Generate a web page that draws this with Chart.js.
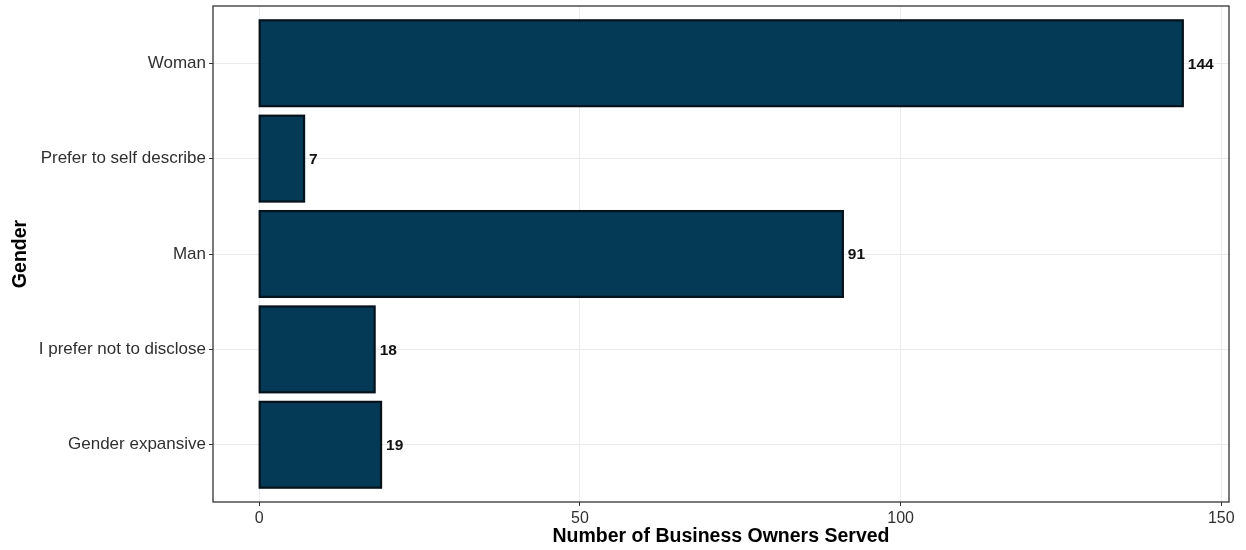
<!DOCTYPE html>
<html>
<head>
<meta charset="utf-8">
<script src="https://cdn.jsdelivr.net/npm/chart.js@4.4.1/dist/chart.umd.min.js"></script>
<style>
  html, body { margin: 0; padding: 0; background: #ffffff; }
  #wrap { width: 1246px; height: 550px; position: relative; }
</style>
</head>
<body>
<div id="wrap"><canvas id="c" width="1246" height="550"></canvas></div>
<script>
// Data (top to bottom as shown)
const categories = ['Woman', 'Prefer to self describe', 'Man', 'I prefer not to disclose', 'Gender expansive'];
const owners = [144, 7, 91, 18, 19];
const xTicks = [0, 50, 100, 150];

const points = categories.map((c, i) => ({ x: owners[i], y: i }));

const panelBorder = {
  id: 'panelBorder',
  afterDraw(chart) {
    const a = chart.chartArea, ctx = chart.ctx;
    ctx.save();
    ctx.strokeStyle = '#333333';
    ctx.lineWidth = 1.3;
    ctx.strokeRect(a.left, a.top, a.right - a.left, a.bottom - a.top);
    ctx.restore();
  }
};

// outline each bar (centered on its edge, like ggplot) and write value labels
const barDecor = {
  id: 'barDecor',
  afterDatasetsDraw(chart) {
    const ctx = chart.ctx;
    const meta = chart.getDatasetMeta(0);
    ctx.save();
    ctx.strokeStyle = '#04121b';
    ctx.lineWidth = 2.2;
    meta.data.forEach((bar) => {
      const p = bar.getProps(['x', 'y', 'base', 'height'], true);
      ctx.strokeRect(p.base, p.y - p.height / 2, p.x - p.base, p.height);
    });
    ctx.font = 'bold 15.5px "Liberation Sans", Arial, sans-serif';
    ctx.fillStyle = '#111111';
    ctx.textAlign = 'left';
    ctx.textBaseline = 'middle';
    meta.data.forEach((bar, i) => {
      ctx.fillText(String(owners[i]), bar.x + 5, bar.y + 1);
    });
    ctx.restore();
  }
};

Chart.defaults.font.family = '"Liberation Sans", Arial, sans-serif';

new Chart(document.getElementById('c'), {
  type: 'bar',
  data: {
    datasets: [{
      data: points,
      backgroundColor: '#053a56',
      borderWidth: 0,
      inflateAmount: 0,
      categoryPercentage: 1,
      barPercentage: 0.9
    }]
  },
  options: {
    indexAxis: 'y',
    responsive: false,
    animation: false,
    devicePixelRatio: 1,
    layout: { padding: { top: 6, right: 17, left: 0, bottom: 0 } },
    plugins: { legend: { display: false }, tooltip: { enabled: false } },
    scales: {
      x: {
        type: 'linear',
        min: -7.2,
        max: 151.2,
        afterBuildTicks(scale) { scale.ticks = xTicks.map(v => ({ value: v })); },
        afterFit(scale) { scale.height = 48; },
        border: { display: false },
        grid: {
          color: '#ebebeb',
          lineWidth: 1,
          tickColor: '#333333',
          tickLength: 4
        },
        ticks: {
          autoSkip: false,
          maxRotation: 0,
          padding: 3,
          color: '#303030',
          font: { size: 16 }
        },
        title: {
          display: true,
          text: 'Number of Business Owners Served',
          color: '#000000',
          font: { size: 19.5, weight: 'bold' },
          padding: { top: 0, bottom: 2 }
        }
      },
      y: {
        type: 'linear',
        reverse: true,
        offset: false,
        min: -0.6,
        max: 4.6,
        afterBuildTicks(scale) { scale.ticks = categories.map((c, i) => ({ value: i })); },
        afterFit(scale) { scale.width = 213; scale.paddingTop = 0; scale.paddingBottom = 0; },
        border: { display: false },
        grid: {
          offset: false,
          color: '#ebebeb',
          lineWidth: 1,
          tickColor: '#333333',
          tickLength: 4
        },
        ticks: {
          autoSkip: false,
          padding: 3,
          color: '#303030',
          font: { size: 17 },
          callback: (v) => categories[v] !== undefined ? categories[v] : ''
        },
        title: {
          display: true,
          text: 'Gender',
          color: '#000000',
          font: { size: 19.5, weight: 'bold' },
          padding: { top: 9, bottom: 0 }
        }
      }
    }
  },
  plugins: [panelBorder, barDecor]
});
</script>
</body>
</html>
